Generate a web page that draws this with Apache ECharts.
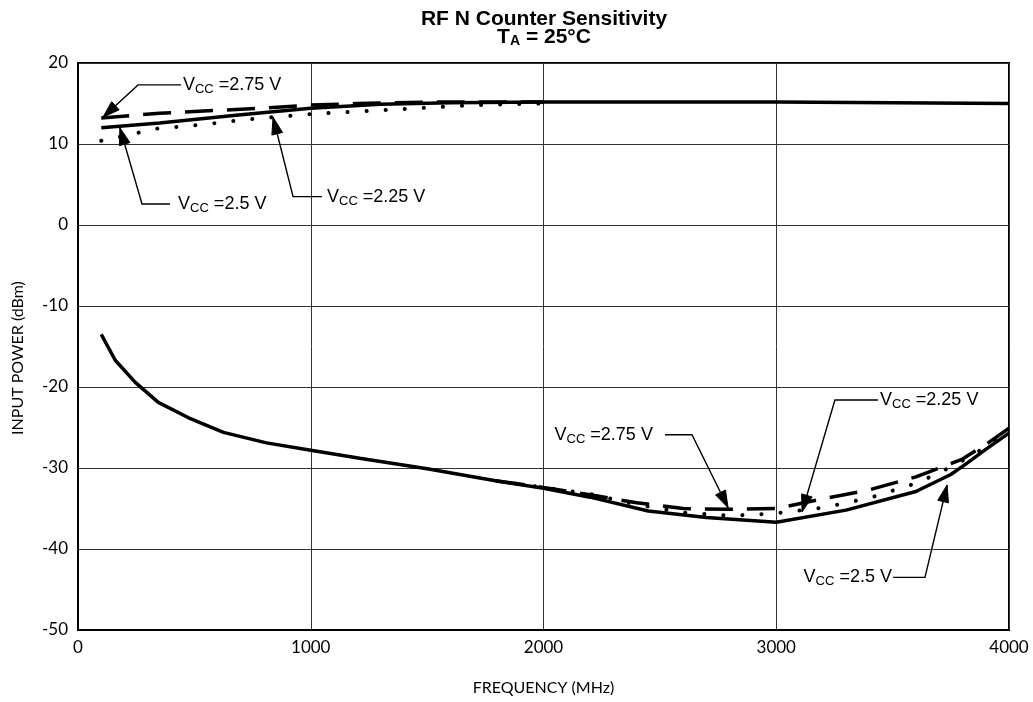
<!DOCTYPE html>
<html>
<head>
<meta charset="utf-8">
<script src="https://cdn.jsdelivr.net/npm/echarts@6/dist/echarts.min.js"></script>
<style>
html,body{margin:0;padding:0;background:#fff;}
#chart{width:1033px;height:702px;}
</style>
</head>
<body>
<div id="chart"></div>
<script>
// ---- Data (frequency in MHz, input power in dBm) ----
// Upper (maximum) sensitivity curves
const up25Freq  = [100, 350, 700, 1000, 1300, 1600, 2000, 2500, 3000, 3500, 4000];
const up25Pow   = [12.0, 12.6, 13.6, 14.4, 14.9, 15.1, 15.2, 15.2, 15.2, 15.1, 15.0];
const up275Freq = [100, 350, 780, 1000, 1200, 1600, 2000];
const up275Pow  = [13.2, 13.8, 14.4, 14.8, 15.0, 15.2, 15.2];
const up225Freq = [100, 180, 260, 340, 500, 750, 1000, 1320, 1700, 2000];
const up225Pow  = [10.4, 10.9, 11.4, 11.9, 12.3, 13.1, 13.7, 14.2, 14.8, 15.0];
// Lower (minimum) sensitivity curves
const lo25Freq  = [100, 160, 245, 345, 475, 625, 810, 1000, 1210, 1500, 1800, 2000, 2200, 2450, 2700, 3000, 3300, 3600, 3750, 3820, 3900, 4000];
const lo25Pow   = [-13.5, -16.7, -19.4, -21.9, -23.8, -25.6, -26.9, -27.8, -28.8, -30.1, -31.6, -32.5, -33.6, -35.3, -36.1, -36.7, -35.2, -32.9, -30.8, -29.4, -27.7, -25.7];
const lo275Freq = [1800, 2000, 2200, 2400, 2600, 2800, 3000, 3200, 3400, 3600, 3800, 3900, 4000];
const lo275Pow  = [-31.6, -32.4, -33.3, -34.3, -35.0, -35.1, -35.0, -33.8, -32.7, -31.1, -28.9, -27.1, -25.1];
const lo225Freq = [1800, 2000, 2200, 2400, 2600, 2800, 3000, 3200, 3400, 3600, 3700, 3800, 3900, 4000];
const lo225Pow  = [-31.6, -32.4, -33.2, -34.5, -35.5, -35.9, -35.6, -34.9, -33.7, -31.9, -30.6, -29.1, -27.4, -25.5];
// Axis ticks
const xTicks = [0, 1000, 2000, 3000, 4000];
const yTicks = [-50, -40, -30, -20, -10, 0, 10, 20];
// Annotation labels (text and the data points their leaders refer to)
const annVolts   = ['2.75', '2.5', '2.25', '2.75', '2.25', '2.5'];
const annAlign   = ['left', 'left', 'left', 'right', 'left', 'right'];
const annTextAt  = [[451, 17.3], [430, 2.6], [1070, 3.5], [2470, -25.9], [3446, -21.6], [3497, -43.5]];
const annLeaders = [
  [[443, 17.3], [258, 17.3], [107, 13.3]],
  [[395, 2.6], [275, 2.6], [180, 12.0]],
  [[1048, 3.5], [924, 3.5], [838, 13.3]],
  [[2522, -25.9], [2638, -25.9], [2793, -34.9]],
  [[3437, -21.6], [3252, -21.6], [3111, -35.4]],
  [[3502, -43.5], [3639, -43.5], [3734, -32.1]]
];

function pairs(f, p) { return f.map((v, i) => [v, p[i]]); }

const chart = echarts.init(document.getElementById('chart'), null, {renderer: 'canvas'});
const tickFont = 'Lato';
const solid = {color: '#000', width: 3.5, type: 'solid'};
const dashed = {color: '#000', width: 3.5, type: [28, 14], cap: 'butt'};
const dotted = {color: '#000', width: 4, type: [0.1, 19], cap: 'round'};

function mkSeries(name, f, p, ls, z) {
  return {name, type: 'line', data: pairs(f, p), symbol: 'none', showSymbol: false,
    lineStyle: ls, z: z, silent: true, animation: false, clip: true};
}

chart.setOption({
  animation: false,
  backgroundColor: '#fff',
  grid: {left: 78, right: 24, top: 63, bottom: 72, show: true, borderColor: '#000', borderWidth: 2},
  xAxis: {
    type: 'value', min: 0, max: 4000, interval: 1000,
    name: 'FREQUENCY (MHz)', nameLocation: 'middle', nameGap: 50,
    nameTextStyle: {fontFamily: tickFont, fontSize: 16, color: '#000'},
    axisLine: {show: true, onZero: false, lineStyle: {color: '#000', width: 2}},
    axisTick: {show: false},
    axisLabel: {fontFamily: tickFont, fontSize: 17, color: '#000', margin: 9,
      formatter: v => xTicks.indexOf(v) >= 0 ? String(v) : ''},
    splitLine: {show: true, lineStyle: {color: '#333', width: 1}}
  },
  yAxis: {
    type: 'value', min: -50, max: 20, interval: 10,
    axisLine: {show: true, onZero: false, lineStyle: {color: '#000', width: 2}},
    axisTick: {show: false},
    axisLabel: {fontFamily: tickFont, fontSize: 17, color: '#000', margin: 10,
      formatter: v => yTicks.indexOf(v) >= 0 ? String(v) : ''},
    splitLine: {show: true, lineStyle: {color: '#333', width: 1}}
  },
  series: [
    mkSeries('VCC=2.25 V upper', up225Freq, up225Pow, dotted, 3),
    mkSeries('VCC=2.75 V upper', up275Freq, up275Pow, dashed, 4),
    mkSeries('VCC=2.5 V upper', up25Freq, up25Pow, solid, 5),
    mkSeries('VCC=2.25 V lower', lo225Freq, lo225Pow, dotted, 3),
    mkSeries('VCC=2.75 V lower', lo275Freq, lo275Pow, dashed, 4),
    mkSeries('VCC=2.5 V lower', lo25Freq, lo25Pow, solid, 5)
  ]
});

function px(pt) { return chart.convertToPixel({gridIndex: 0}, pt); }

const graphics = [];
// Title
graphics.push({type: 'text', x: 544, y: 19.5, z: 100, style: {
  text: 'RF N Counter Sensitivity', font: 'bold 21px "Liberation Sans", Arial, sans-serif',
  fill: '#000', align: 'center', verticalAlign: 'middle'}});
graphics.push({type: 'text', x: 544, y: 37.5, z: 100, style: {
  text: '{b|T}{s|A}{b| = 25°C}', align: 'center', verticalAlign: 'middle', fill: '#000',
  rich: {
    b: {font: 'bold 21px "Liberation Sans", Arial, sans-serif', fill: '#000', verticalAlign: 'middle', lineHeight: 22},
    s: {font: 'bold 14px "Liberation Sans", Arial, sans-serif', fill: '#000', verticalAlign: 'bottom', lineHeight: 14, padding: [10, 0, 0, 0]}
  }}});
// Y axis title
graphics.push({type: 'text', x: 18, y: 358, rotation: Math.PI / 2, z: 100, style: {
  text: 'INPUT POWER (dBm)', font: '16px Lato, sans-serif', fill: '#000',
  align: 'center', verticalAlign: 'middle'}});

// Annotations
annVolts.forEach((v, i) => {
  const pts = annLeaders[i].map(px);
  graphics.push({type: 'polyline', z: 90, silent: true, shape: {points: pts},
    style: {stroke: '#000', lineWidth: 1.4, fill: null}});
  const tip = pts[pts.length - 1], prev = pts[pts.length - 2];
  const dx = tip[0] - prev[0], dy = tip[1] - prev[1];
  const L = Math.sqrt(dx * dx + dy * dy), ux = dx / L, uy = dy / L;
  const len = 17, hw = 5.5;
  const bx = tip[0] - ux * len, by = tip[1] - uy * len;
  graphics.push({type: 'polygon', z: 91, silent: true, shape: {points: [
    tip, [bx - uy * hw, by + ux * hw], [bx + uy * hw, by - ux * hw]]},
    style: {fill: '#000', stroke: '#000', lineWidth: 1}});
  const t = px(annTextAt[i]);
  graphics.push({type: 'text', x: t[0], y: t[1], z: 92, silent: true, style: {
    text: '{m|V}{s|CC}{m| =' + v + ' V}', align: annAlign[i], verticalAlign: 'middle', fill: '#000',
    rich: {
      m: {font: '18px "Liberation Sans", Arial, sans-serif', fill: '#000', verticalAlign: 'middle', lineHeight: 22},
      s: {font: '13px "Liberation Sans", Arial, sans-serif', fill: '#000', verticalAlign: 'bottom', lineHeight: 13, padding: [9, 0, 0, 0]}
    }}});
});
chart.setOption({graphic: graphics});
</script>
</body>
</html>
